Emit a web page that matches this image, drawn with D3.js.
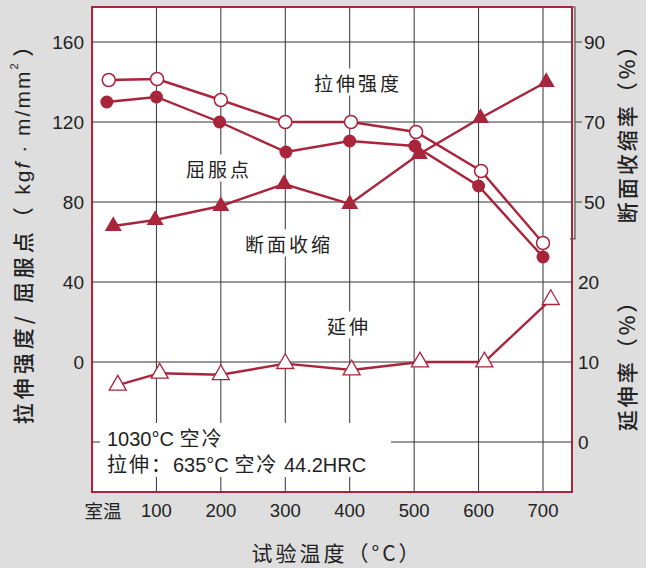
<!DOCTYPE html>
<html>
<head>
<meta charset="utf-8">
<script src="https://cdn.jsdelivr.net/npm/d3@7"></script>
<style>
  body { margin: 0; background: #dedede; }
  svg { display: block; }
  text { font-family: "Liberation Sans", Arial, "Noto Sans CJK SC", sans-serif; fill: #222; }
  .cjk { font-family: "Noto Sans CJK SC", "Liberation Sans", sans-serif; }
</style>
</head>
<body>
<div id="chart"></div>
<script>
// tick positions on the temperature axis (室温 ~ 20 C)
var tickTemps = [20, 100, 200, 300, 400, 500, 600, 700];
var tickLabels = ["室温", "100", "200", "300", "400", "500", "600", "700"];

// 拉伸强度 (kgf/mm2), open circles
var tensileT = [26, 101, 200, 300, 402, 503, 604, 700];
var tensile = [141, 141.5, 131, 120, 120, 115, 95.5, 59.5];

// 屈服点 (kgf/mm2), filled circles
var yieldT = [23, 100, 198, 301, 400, 501, 600, 700];
var yieldPt = [130, 132.5, 120, 105, 110.5, 108, 88, 52.5];

// 断面收缩率 (%), filled triangles
var reductionT = [33, 98, 200, 298, 400, 508, 603, 705];
var reduction = [44, 45.5, 49, 54.5, 49.5, 62, 71, 80];

// 延伸率 (%), open triangles
var elongT = [40, 105, 200, 300, 403, 509, 609, 712];
var elong = [7.1, 8.6, 8.4, 9.8, 9, 10, 10, 17.8];

var leftTicks = [160, 120, 80, 40, 0];
var gridLeft = [160, 120, 80, 40, 0, -40];
var raTicks = [90, 70, 50];
var elTicks = [20, 10, 0];

var red = "#a8253c";

var W = 646, H = 568;
var margin = {top: 7, left: 92, right: 74, bottom: 76};
var x0 = margin.left, x1 = W - margin.right, y0 = margin.top, y1 = H - margin.bottom;

var svg = d3.select("#chart").append("svg")
  .attr("width", W).attr("height", H);

var x = d3.scaleLinear().domain([0, 745]).range([x0, x1]);
var yL = d3.scaleLinear().domain([-65, 177.5]).range([y1, y0]);
// right scales share the left grid lines
var yRA = d3.scaleLinear().domain([50, 90]).range([yL(80), yL(160)]);
var yEl = d3.scaleLinear().domain([0, 20]).range([yL(-40), yL(40)]);

// plot area
svg.append("rect")
  .attr("x", x0).attr("y", y0).attr("width", x1 - x0).attr("height", y1 - y0)
  .attr("fill", "#fff");

// grid
svg.append("g").selectAll("line").data(gridLeft).enter().append("line")
  .attr("x1", x0).attr("x2", x1)
  .attr("y1", function(d) { return yL(d); }).attr("y2", function(d) { return yL(d); })
  .attr("stroke", "#333").attr("stroke-width", 1);
svg.append("g").selectAll("line").data(tickTemps.slice(1)).enter().append("line")
  .attr("x1", function(d) { return x(d); }).attr("x2", function(d) { return x(d); })
  .attr("y1", y0).attr("y2", y1)
  .attr("stroke", "#333").attr("stroke-width", 1);

// annotation box (hides grid)
var note = svg.append("g");
note.append("rect")
  .attr("x", 100).attr("y", 423).attr("width", 291).attr("height", 54)
  .attr("fill", "#fff");
note.append("text").attr("x", 107).attr("y", 446).attr("font-size", 20)
  .html('1030°C <tspan class="cjk" letter-spacing="2">空冷</tspan>');
note.append("text").attr("x", 107).attr("y", 472).attr("font-size", 20)
  .html('<tspan class="cjk" letter-spacing="2">拉伸：</tspan>635°C <tspan class="cjk" letter-spacing="2">空冷</tspan> 44.2HRC');

// series labels with white backing
function label(txt, cx, cy) {
  var g = svg.append("g");
  var t = g.append("text").attr("class", "cjk")
    .attr("x", cx).attr("y", cy).attr("text-anchor", "middle")
    .attr("dominant-baseline", "central")
    .attr("font-size", 19).attr("letter-spacing", 3).text(txt);
  var b = t.node().getBBox();
  g.insert("rect", "text").attr("x", b.x - 3).attr("y", b.y).attr("width", b.width + 4).attr("height", b.height)
    .attr("fill", "#fff");
}
label("拉伸强度", 358, 82);
label("屈服点", 219, 168);
label("断面收缩", 289, 243);
label("延伸", 349, 325);

// lines
function drawLine(ts, vs, yScale) {
  var pts = ts.map(function(t, i) { return [x(t), yScale(vs[i])]; });
  svg.append("path").attr("d", d3.line()(pts))
    .attr("fill", "none").attr("stroke", red).attr("stroke-width", 2.4);
  return pts;
}
var pTen = drawLine(tensileT, tensile, yL);
var pYld = drawLine(yieldT, yieldPt, yL);
var pRA = drawLine(reductionT, reduction, yRA);
var pEl = drawLine(elongT, elong, yEl);

var tri = d3.symbol().type(d3.symbolTriangle).size(125);

svg.append("g").selectAll("circle").data(pYld).enter().append("circle")
  .attr("cx", function(d) { return d[0]; }).attr("cy", function(d) { return d[1]; })
  .attr("r", 6.5).attr("fill", red);
svg.append("g").selectAll("circle").data(pTen).enter().append("circle")
  .attr("cx", function(d) { return d[0]; }).attr("cy", function(d) { return d[1]; })
  .attr("r", 6.5).attr("fill", "#fff").attr("stroke", red).attr("stroke-width", 1.5);
svg.append("g").selectAll("path").data(pRA).enter().append("path")
  .attr("d", tri).attr("transform", function(d) { return "translate(" + d[0] + "," + d[1] + ")"; })
  .attr("fill", red);
svg.append("g").selectAll("path").data(pEl).enter().append("path")
  .attr("d", tri).attr("transform", function(d) { return "translate(" + d[0] + "," + d[1] + ")"; })
  .attr("fill", "#fff").attr("stroke", red).attr("stroke-width", 1.3);

// frame
svg.append("rect")
  .attr("x", x0).attr("y", y0).attr("width", x1 - x0).attr("height", y1 - y0)
  .attr("fill", "none").attr("stroke", red).attr("stroke-width", 2);

// left tick labels
svg.append("g").selectAll("text").data(leftTicks).enter().append("text")
  .attr("x", 84).attr("y", function(d) { return yL(d); })
  .attr("text-anchor", "end").attr("dominant-baseline", "central")
  .attr("font-size", 19).text(function(d) { return d; });

// x tick labels
svg.append("g").selectAll("text").data(tickTemps).enter().append("text")
  .attr("class", function(d, i) { return i == 0 ? "cjk" : null; })
  .attr("x", function(d, i) { return i == 0 ? x(d) - 2 : x(d); }).attr("y", 510)
  .attr("text-anchor", "middle").attr("dominant-baseline", "central")
  .attr("font-size", 18.5).text(function(d, i) { return tickLabels[i]; });

// right axis for 断面收缩率
var ax = 575;
var raAxis = svg.append("g").attr("stroke", "#555").attr("stroke-width", 1.2);
raAxis.append("path")
  .attr("d", "M" + (ax - 5) + "," + y0 + "H" + ax + "V" + yRA(40.8) + "H" + (ax - 5))
  .attr("fill", "none");
raAxis.selectAll("line").data(raTicks).enter().append("line")
  .attr("x1", ax).attr("x2", ax + 7)
  .attr("y1", function(d) { return yRA(d); }).attr("y2", function(d) { return yRA(d); });
svg.append("g").selectAll("text").data(raTicks).enter().append("text")
  .attr("x", ax + 9).attr("y", function(d) { return yRA(d); })
  .attr("dominant-baseline", "central").attr("font-size", 19).text(function(d) { return d; });

// right labels for 延伸率
svg.append("g").selectAll("text").data(elTicks).enter().append("text")
  .attr("x", 578).attr("y", function(d) { return yEl(d); })
  .attr("dominant-baseline", "central").attr("font-size", 19).text(function(d) { return d; });

// axis titles
svg.append("text").attr("class", "cjk")
  .attr("transform", "translate(22,230) rotate(-90)")
  .attr("text-anchor", "middle").attr("dominant-baseline", "central")
  .attr("font-size", 21).attr("font-weight", 500)
  .html('<tspan letter-spacing="4">拉伸强度/ 屈服点（ </tspan><tspan font-family="Liberation Sans" letter-spacing="2">kg<tspan font-style="italic">f</tspan> · m/mm<tspan dy="-8" font-size="11">2</tspan></tspan><tspan dy="8"> ）</tspan>');
svg.append("text").attr("class", "cjk")
  .attr("transform", "translate(626,128) rotate(-90)")
  .attr("text-anchor", "middle").attr("dominant-baseline", "central")
  .attr("font-size", 21).attr("font-weight", 500).attr("letter-spacing", 3).text("断面收缩率（%）");
svg.append("text").attr("class", "cjk")
  .attr("transform", "translate(626,360) rotate(-90)")
  .attr("text-anchor", "middle").attr("dominant-baseline", "central")
  .attr("font-size", 21).attr("font-weight", 500).attr("letter-spacing", 3).text("延伸率（%）");
svg.append("text").attr("class", "cjk")
  .attr("x", 337).attr("y", 552).attr("text-anchor", "middle").attr("dominant-baseline", "central")
  .attr("font-size", 21).attr("letter-spacing", 3).text("试验温度（°C）");
</script>
</body>
</html>
